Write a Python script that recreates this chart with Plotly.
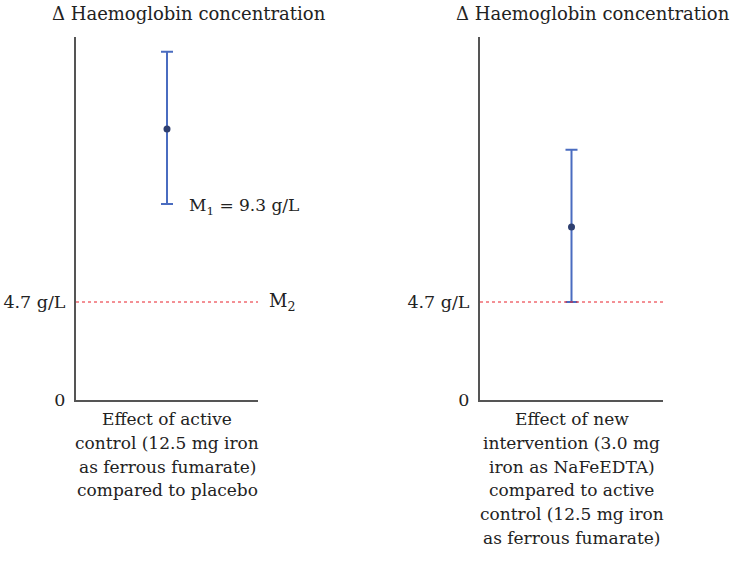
import plotly.graph_objects as go

# ---- data ----
panels = ["active", "new"]
mean_vals = [13.0, 8.3]
upper_vals = [16.7, 12.0]
lower_vals = [9.4, 4.7]
margin_m2 = 4.7
y_max = 17.41
tick_vals = [0, 4.7]
tick_text = ["0", "4.7 g/L"]
title_text = "Δ Haemoglobin concentration"
m1_label = "M<sub>1</sub> = 9.3 g/L"
m1_value = 9.3
m2_label = "M<sub>2</sub>"
xlabels = [
    ["Effect of active", "control (12.5 mg iron", "as ferrous fumarate)", "compared to placebo"],
    ["Effect of new", "intervention (3.0 mg", "iron as NaFeEDTA)", "compared to active",
     "control (12.5 mg iron", "as ferrous fumarate)"],
]

W, H = 731, 561
FIG_H = 572
FONT = "DejaVu Serif"
BLUE = "#4A6CC0"
DOT = "#2E3F70"
AXIS = "#555555"
TXT = "#222222"

def px_x(p):
    return p / W

def px_y(p):
    return 1 - p / H

fig = go.Figure()

x_domains = [[px_x(76), px_x(258)], [px_x(480), px_x(663)]]
y_domain = [px_y(400), px_y(37)]

for i in range(2):
    xa = "x" if i == 0 else "x2"
    ya = "y" if i == 0 else "y2"
    fig.add_trace(go.Scatter(
        x=[0.5], y=[mean_vals[i]], mode="markers",
        marker=dict(color=DOT, size=7),
        error_y=dict(type="data", symmetric=False,
                     array=[upper_vals[i] - mean_vals[i]],
                     arrayminus=[mean_vals[i] - lower_vals[i]],
                     color=BLUE, thickness=2, width=6),
        xaxis=xa, yaxis=ya, showlegend=False, hoverinfo="skip"))
    fig.add_shape(type="line", xref=xa, yref=ya, x0=0, x1=1, y0=margin_m2, y1=margin_m2,
                  line=dict(color="#E8202A", width=1, dash="dot"))

axis_common = dict(showgrid=False, zeroline=False, showline=True, linecolor=AXIS, linewidth=2)
for i in range(2):
    sfx = "" if i == 0 else "2"
    fig.update_layout(**{
        "xaxis" + sfx: dict(domain=x_domains[i], range=[0, 1], showticklabels=False, ticks="",
                            anchor="y" + sfx, **axis_common),
        "yaxis" + sfx: dict(domain=y_domain, range=[0, y_max], tickvals=tick_vals, ticktext=tick_text,
                            ticks="", ticklabelstandoff=5, anchor="x" + sfx,
                            tickfont=dict(family=FONT, size=17.5, color=TXT), **axis_common),
    })

annotations = []
title_centers = [189, 593]
for i in range(2):
    annotations.append(dict(text=title_text, xref="paper", yref="paper",
                            x=px_x(title_centers[i]), y=px_y(13), xanchor="center", yanchor="middle",
                            showarrow=False, font=dict(family=FONT, size=18, color=TXT)))
    xa = "x" if i == 0 else "x2"
    for j, line in enumerate(xlabels[i]):
        annotations.append(dict(text=line, xref=xa, yref="paper", x=0.5,
                                y=px_y(419 + 23.8 * j), xanchor="center", yanchor="middle",
                                showarrow=False, font=dict(family=FONT, size=17, color=TXT)))

annotations.append(dict(text=m1_label, xref="x", yref="y", x=0.61, y=m1_value,
                        xanchor="left", yanchor="middle", showarrow=False,
                        font=dict(family=FONT, size=17, color=TXT)))
annotations.append(dict(text=m2_label, xref="paper", yref="y", x=px_x(267), y=margin_m2,
                        xanchor="left", yanchor="middle", showarrow=False,
                        font=dict(family=FONT, size=18, color=TXT)))

fig.update_layout(width=W, height=FIG_H, margin=dict(l=0, r=0, t=0, b=FIG_H - H),
                  paper_bgcolor="white", plot_bgcolor="white",
                  annotations=annotations, font=dict(family=FONT))

fig.write_html("out.html", config={"displayModeBar": False, "staticPlot": True},
               post_script="document.body.style.margin='0';document.body.style.overflow='hidden';"
                           "document.documentElement.style.overflow='hidden';")
